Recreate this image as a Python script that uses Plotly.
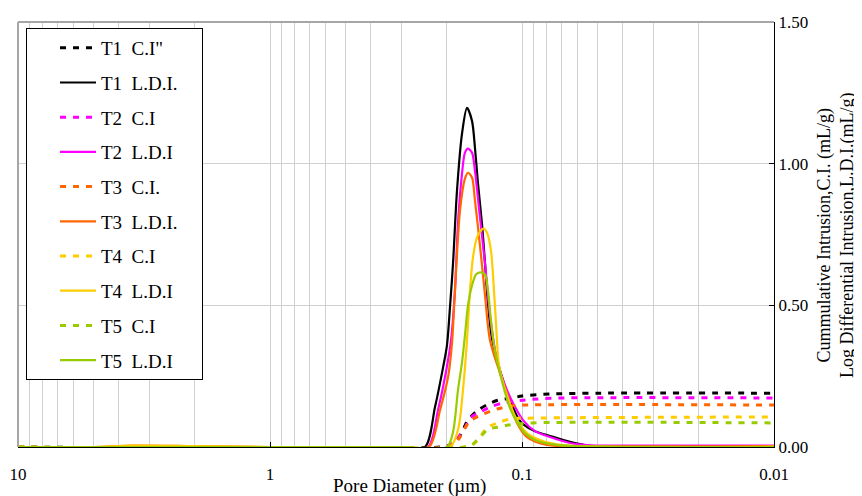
import plotly.graph_objects as go

# ---------------- data (pore diameter in µm, intrusion in mL/g) ----------------
names = ["T1\u00a0\u00a0C.I\"", "T1\u00a0\u00a0L.D.I.\u00a0\u00a0\u00a0\u00a0", "T2\u00a0\u00a0C.I", "T2\u00a0\u00a0L.D.I",
         "T3\u00a0\u00a0C.I.", "T3\u00a0\u00a0L.D.I.", "T4\u00a0\u00a0C.I", "T4\u00a0\u00a0L.D.I",
         "T5\u00a0\u00a0C.I", "T5\u00a0\u00a0L.D.I"]

# Cumulative intrusion (C.I.)
t1_ci_d = [10, 0.2115, 0.1931, 0.1811, 0.1730, 0.1638, 0.1495, 0.1365, 0.1245, 0.1096, 0.1, 0.0774, 0.049, 0.01]
t1_ci = [0, 0, 0.007, 0.025, 0.053, 0.095, 0.130, 0.151, 0.165, 0.173, 0.180, 0.187, 0.190, 0.190]

t2_ci_d = [10, 0.2021, 0.1845, 0.1762, 0.1684, 0.1608, 0.1468, 0.1340, 0.1189, 0.0991, 0.0774, 0.01]
t2_ci = [0, 0, 0.018, 0.042, 0.067, 0.102, 0.123, 0.141, 0.155, 0.165, 0.172, 0.173]

t3_ci_d = [10, 0.2021, 0.1845, 0.1762, 0.1684, 0.1608, 0.1428, 0.1257, 0.1116, 0.0991, 0.01]
t3_ci = [0, 0, 0.014, 0.035, 0.067, 0.092, 0.116, 0.134, 0.144, 0.148, 0.148]

t4_ci_d = [10, 0.1684, 0.1537, 0.1468, 0.1402, 0.1340, 0.1223, 0.1116, 0.0904, 0.01]
t4_ci = [0, 0, 0.014, 0.035, 0.060, 0.074, 0.088, 0.099, 0.102, 0.106]

t5_ci_d = [10, 0.1684, 0.1579, 0.1509, 0.1442, 0.1377, 0.1257, 0.1148, 0.0904, 0.01]
t5_ci = [0, 0, 0.007, 0.025, 0.042, 0.060, 0.070, 0.077, 0.085, 0.085]

# Log differential intrusion (L.D.I.)
t1_ldi_d = [10, 1, 0.3, 0.2427, 0.2214, 0.2056, 0.1985, 0.1931, 0.1878, 0.1811, 0.1730, 0.1653,
            0.1579, 0.1537, 0.1495, 0.1442, 0.1402, 0.1365, 0.1316, 0.1223, 0.1148, 0.1086,
            0.1037, 0.0991, 0.0888, 0.0774, 0.0645, 0.0537, 0.0408, 0.01]
t1_ldi = [0, 0, 0, 0, 0.141, 0.282, 0.359, 0.493, 0.648, 0.905, 1.106, 1.197,
          1.151, 1.056, 0.930, 0.789, 0.648, 0.507, 0.384, 0.271, 0.194, 0.141,
          0.102, 0.081, 0.056, 0.039, 0.018, 0.004, 0.002, 0.002]

t2_ldi_d = [10, 1, 0.3, 0.2360, 0.2155, 0.2004, 0.1913, 0.1845, 0.1795, 0.1730, 0.1684, 0.1638,
            0.1579, 0.1537, 0.1468, 0.1402, 0.1340, 0.1257, 0.1168, 0.1086, 0.0991, 0.0888,
            0.0774, 0.0645, 0.0537, 0.0408, 0.01]
t2_ldi = [0, 0, 0, 0, 0.130, 0.264, 0.377, 0.553, 0.789, 0.965, 1.039, 1.053,
          1.039, 0.975, 0.810, 0.648, 0.465, 0.306, 0.218, 0.155, 0.095, 0.056,
          0.035, 0.014, 0.006, 0.005, 0.005]

t3_ldi_d = [10, 5, 3.5, 2, 1, 0.3, 0.2339, 0.2115, 0.1966, 0.1896, 0.1845, 0.1762, 0.1684, 0.1638,
            0.1579, 0.1537, 0.1468, 0.1402, 0.1340, 0.1223, 0.1148, 0.1047, 0.0955, 0.0796,
            0.0589, 0.01]
t3_ldi = [0, 0, 0.005, 0.003, 0, 0, 0, 0.130, 0.246, 0.366, 0.553, 0.835, 0.947, 0.968,
          0.951, 0.870, 0.711, 0.535, 0.377, 0.261, 0.190, 0.085, 0.035, 0.007,
          0.003, 0.003]

t4_ldi_d = [10, 5, 3.5, 2, 1, 0.3, 0.1931, 0.1795, 0.1715, 0.1653, 0.1608, 0.1565, 0.1509, 0.1442,
            0.1415, 0.1377, 0.1328, 0.1292, 0.1268, 0.1257, 0.1234, 0.1148, 0.1047, 0.0955,
            0.0849, 0.0688, 0.01]
t4_ldi = [0, 0, 0.005, 0.003, 0, 0, 0, 0.060, 0.201, 0.377, 0.553, 0.669, 0.739, 0.768,
          0.771, 0.757, 0.694, 0.553, 0.437, 0.377, 0.289, 0.183, 0.095, 0.049,
          0.025, 0.007, 0.001]

t5_ldi_d = [10, 1, 0.3, 0.1985, 0.1878, 0.1795, 0.1730, 0.1684, 0.1638, 0.1579, 0.1523, 0.1468,
            0.1402, 0.1365, 0.1328, 0.1292, 0.1245, 0.1189, 0.1116, 0.1047, 0.0973, 0.0888,
            0.0774, 0.0645, 0.01]
t5_ldi = [0, 0, 0, 0, 0.053, 0.201, 0.299, 0.394, 0.500, 0.570, 0.609, 0.616,
          0.609, 0.553, 0.447, 0.359, 0.289, 0.218, 0.137, 0.088, 0.049, 0.025,
          0.011, 0.004, 0]

x_tick_vals = [10, 1, 0.1, 0.01]
x_tick_text = ["10", "1", "0.1", "0.01"]
y_tick_vals = [0, 0.5, 1.0, 1.5]
y_tick_text = ["0.00", "0.50", "1.00", "1.50"]
x_title = "Pore Diameter (\u00b5m)"
y_title = "Cummulative Intrusion,C.I. (mL/g)<br>Log Differential Intrusion,L.D.I.(mL/g)"

colors = ["#000000", "#FF00FF", "#FF6600", "#FFCC00", "#99CC00"]

series = [
    (t1_ci_d, t1_ci, t1_ldi_d, t1_ldi),
    (t2_ci_d, t2_ci, t2_ldi_d, t2_ldi),
    (t3_ci_d, t3_ci, t3_ldi_d, t3_ldi),
    (t4_ci_d, t4_ci, t4_ldi_d, t4_ldi),
    (t5_ci_d, t5_ci, t5_ldi_d, t5_ldi),
]

FONT = "Liberation Serif, Times New Roman, serif"

fig = go.Figure()
for i, (cd, cv, ld, lv) in enumerate(series):
    fig.add_trace(go.Scatter(x=cd, y=cv, mode="lines", name=names[2 * i],
                             legendgroup=names[2 * i],
                             line=dict(color=colors[i], width=3, dash="6px,7px",
                                       shape="spline", smoothing=0.8)))
    fig.add_trace(go.Scatter(x=ld, y=lv, mode="lines", name=names[2 * i + 1],
                             legendgroup=names[2 * i + 1],
                             line=dict(color=colors[i], width=2.2,
                                       shape="spline", smoothing=0.8)))

minor_vals = [m * 10 ** e for e in (-2, -1, 0) for m in range(2, 10)]

# the page body adds an 8 px offset, so the figure is 8 px smaller on each side
fig.update_layout(
    width=854, height=488,
    margin=dict(l=10, r=88, t=14, b=49, autoexpand=False),
    paper_bgcolor="white", plot_bgcolor="white",
    font=dict(family=FONT, size=17, color="black"),
    showlegend=True,
    legend=dict(x=0.0106, y=0.986, xanchor="left", yanchor="top",
                bgcolor="white", bordercolor="black", borderwidth=1,
                font=dict(family=FONT, size=19, color="black"),
                tracegroupgap=7, indentation=28, itemwidth=36),
    xaxis=dict(type="log", range=[1, -2], tickmode="array",
               tickvals=x_tick_vals, ticktext=x_tick_text,
               ticks="inside", ticklen=5, tickcolor="black",
               showline=True, linecolor="black", linewidth=1,
               showgrid=True, gridcolor="#D0D0D0", gridwidth=1,
               minor=dict(tickmode="array", tickvals=minor_vals, showgrid=True,
                          gridcolor="#D0D0D0", gridwidth=1, ticks=""),
               zeroline=False, automargin=False, ticklabelstandoff=12,
               tickfont=dict(family=FONT, size=17)),
    yaxis=dict(side="right", range=[0, 1.5], tickmode="array",
               tickvals=y_tick_vals, ticktext=y_tick_text,
               ticks="inside", ticklen=5, tickcolor="black",
               showline=True, linecolor="black", linewidth=1,
               showgrid=True, gridcolor="#D0D0D0", gridwidth=1,
               zeroline=False, automargin=False,
               tickfont=dict(family=FONT, size=17)),
    shapes=[
        dict(type="line", xref="paper", yref="paper", x0=0, x1=1, y0=1, y1=1,
             line=dict(color="#A6A6A6", width=2), layer="above"),
        dict(type="line", xref="paper", yref="paper", x0=0, x1=0, y0=0, y1=1,
             line=dict(color="#A6A6A6", width=2), layer="above"),
    ],
    annotations=[
        dict(text=x_title, xref="paper", yref="paper", x=0.5185, y=-0.0918,
             xanchor="center", yanchor="middle", showarrow=False,
             font=dict(family=FONT, size=19)),
        dict(text=y_title, xref="paper", yref="paper", x=1.0820, y=0.4988,
             xanchor="center", yanchor="middle", showarrow=False, textangle=-90,
             font=dict(family=FONT, size=18)),
    ],
)

fig.write_html("out.html")
